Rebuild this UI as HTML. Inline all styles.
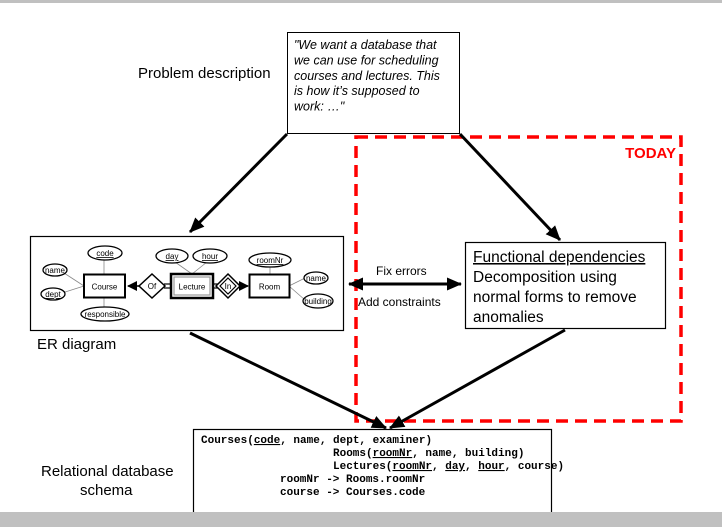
<!DOCTYPE html>
<html><head><meta charset="utf-8"><style>
html,body{margin:0;padding:0;background:#fff;}
svg{display:block;}
text{font-family:"Liberation Sans",Arial,sans-serif;}
.m{font-family:"Liberation Mono","Courier New",monospace;font-weight:bold;font-size:11px;}
.s{font-size:8px;}
</style></head><body>
<svg width="722" height="527" viewBox="0 0 722 527" xmlns="http://www.w3.org/2000/svg">
<defs>
<marker id="ah" markerWidth="10" markerHeight="10" refX="9" refY="5" orient="auto" markerUnits="userSpaceOnUse"><path d="M0,0 L10,5 L0,10 z" fill="#000"/></marker>
<marker id="ab" markerWidth="15" markerHeight="13" refX="14" refY="6.5" orient="auto" markerUnits="userSpaceOnUse"><path d="M0,0 L15,6.5 L0,13 z" fill="#000"/></marker>
<marker id="abs" markerWidth="15" markerHeight="13" refX="1" refY="6.5" orient="auto" markerUnits="userSpaceOnUse"><path d="M15,0 L0,6.5 L15,13 z" fill="#000"/></marker>
</defs>
<rect x="0" y="0" width="722" height="3" fill="#c0c0c0"/>

<rect x="287.5" y="32.5" width="172" height="101" fill="#fff" stroke="#000"/>
<g font-style="italic" font-size="12.5" fill="#000">
<text x="294" y="49">"We want a database that</text>
<text x="294" y="64.5">we can use for scheduling</text>
<text x="294" y="80">courses and lectures. This</text>
<text x="294" y="95">is how it’s supposed to</text>
<text x="294" y="110.5">work: …"</text>
</g>
<text x="138" y="78" font-size="15">Problem description</text>

<rect x="356" y="137" width="325" height="284" fill="none" stroke="#f00" stroke-width="3.5" stroke-dasharray="12,7"/>
<text x="676" y="158" font-size="15" font-weight="bold" fill="#f00" text-anchor="end">TODAY</text>

<g stroke="#000" stroke-width="3" fill="none">
<line x1="287" y1="134" x2="190" y2="232" marker-end="url(#ab)"/>
<line x1="460" y1="134" x2="560" y2="240" marker-end="url(#ab)"/>
<line x1="190" y1="333" x2="386" y2="428" marker-end="url(#ab)"/>
<line x1="565" y1="330" x2="390" y2="428" marker-end="url(#ab)"/>
<line x1="349" y1="284" x2="461" y2="284" marker-start="url(#abs)" marker-end="url(#ab)"/>
</g>
<text x="376" y="275" font-size="12">Fix errors</text>
<text x="358" y="306" font-size="12">Add constraints</text>

<rect x="30.5" y="236.5" width="313" height="94" fill="#fff" stroke="#000" stroke-width="1.2"/>
<text x="37" y="349" font-size="15">ER diagram</text>
<g stroke="#888" stroke-width="0.8">
<line x1="104" y1="260" x2="104" y2="274"/>
<line x1="64" y1="273" x2="84" y2="286"/>
<line x1="62" y1="293" x2="84" y2="286"/>
<line x1="104" y1="298" x2="104" y2="307"/>
<line x1="175" y1="262" x2="192" y2="274"/>
<line x1="207" y1="262" x2="192" y2="274"/>
<line x1="270" y1="266" x2="270" y2="274"/>
<line x1="289" y1="286" x2="305" y2="278"/>
<line x1="289" y1="286" x2="305" y2="300"/>
</g>
<g stroke="#000">
<line x1="164" y1="284" x2="171" y2="284" stroke-width="1.2"/>
<line x1="164" y1="288" x2="171" y2="288" stroke-width="1.2"/>
<line x1="213" y1="284" x2="220" y2="284" stroke-width="1.2"/>
<line x1="213" y1="288" x2="220" y2="288" stroke-width="1.2"/>
<line x1="139" y1="286" x2="128" y2="286" stroke-width="1.5" marker-end="url(#ah)"/>
<line x1="237" y1="286" x2="248" y2="286" stroke-width="1.5" marker-end="url(#ah)"/>
</g>
<rect x="84" y="274.5" width="41" height="23" fill="#fff" stroke="#000" stroke-width="2"/>
<text x="104.5" y="289.5" class="s" text-anchor="middle">Course</text>
<rect x="171" y="274" width="42" height="24" fill="#fff" stroke="#000" stroke-width="2.5"/>
<rect x="174" y="277" width="36" height="18" fill="#fff" stroke="#999" stroke-width="1.2"/>
<text x="192" y="289.5" class="s" text-anchor="middle">Lecture</text>
<rect x="249.5" y="274.5" width="40" height="23" fill="#fff" stroke="#000" stroke-width="2"/>
<text x="269.5" y="289.5" class="s" text-anchor="middle">Room</text>
<path d="M152,274 L165,286 L152,298 L139,286 z" fill="#fff" stroke="#000" stroke-width="1.5"/>
<text x="152" y="289" class="s" text-anchor="middle">Of</text>
<path d="M228,274 L240,286 L228,298 L216,286 z" fill="#fff" stroke="#000" stroke-width="1.5"/>
<path d="M228,278 L236,286 L228,294 L220,286 z" fill="#fff" stroke="#000" stroke-width="1.2"/>
<text x="228" y="289" class="s" text-anchor="middle">In</text>
<g fill="#fff" stroke="#000" stroke-width="1.3">
<ellipse cx="105" cy="253" rx="17" ry="7"/>
<ellipse cx="55" cy="270" rx="12" ry="6"/>
<ellipse cx="53" cy="294" rx="12" ry="6"/>
<ellipse cx="105" cy="314" rx="24" ry="7"/>
<ellipse cx="172" cy="256" rx="16" ry="7"/>
<ellipse cx="210" cy="256" rx="17" ry="7"/>
<ellipse cx="270" cy="260" rx="21" ry="7"/>
<ellipse cx="316" cy="278" rx="12" ry="6"/>
<ellipse cx="318" cy="301" rx="15" ry="7"/>
</g>
<g class="s" text-anchor="middle" fill="#000">
<text x="105" y="256" text-decoration="underline">code</text>
<text x="55" y="273">name</text>
<text x="53" y="297" text-decoration="underline">dept</text>
<text x="105" y="317">responsible</text>
<text x="172" y="259" text-decoration="underline">day</text>
<text x="210" y="259" text-decoration="underline">hour</text>
<text x="270" y="263" text-decoration="underline">roomNr</text>
<text x="316" y="281">name</text>
<text x="318" y="304">building</text>
</g>

<rect x="465.5" y="242.5" width="200" height="86" fill="#fff" stroke="#000" stroke-width="1.2"/>
<g font-size="15.5">
<text x="473" y="262" text-decoration="underline">Functional dependencies</text>
<text x="473" y="282">Decomposition using</text>
<text x="473" y="302">normal forms to remove</text>
<text x="473" y="322">anomalies</text>
</g>

<rect x="193.5" y="429.5" width="358" height="90" fill="#fff" stroke="#000" stroke-width="1.2"/>
<text class="m" x="201" y="443" xml:space="preserve">Courses(<tspan text-decoration="underline">code</tspan>, name, dept, examiner)</text>
<text class="m" x="333" y="456" xml:space="preserve">Rooms(<tspan text-decoration="underline">roomNr</tspan>, name, building)</text>
<text class="m" x="333" y="469" xml:space="preserve">Lectures(<tspan text-decoration="underline">roomNr</tspan>, <tspan text-decoration="underline">day</tspan>, <tspan text-decoration="underline">hour</tspan>, course)</text>
<text class="m" x="280" y="482">roomNr -&gt; Rooms.roomNr</text>
<text class="m" x="280" y="495">course -&gt; Courses.code</text>
<rect x="0" y="512" width="722" height="15" fill="#c0c0c0"/>
<text x="41" y="476" font-size="15">Relational database</text>
<text x="80" y="495" font-size="15">schema</text>
</svg>
</body></html>
